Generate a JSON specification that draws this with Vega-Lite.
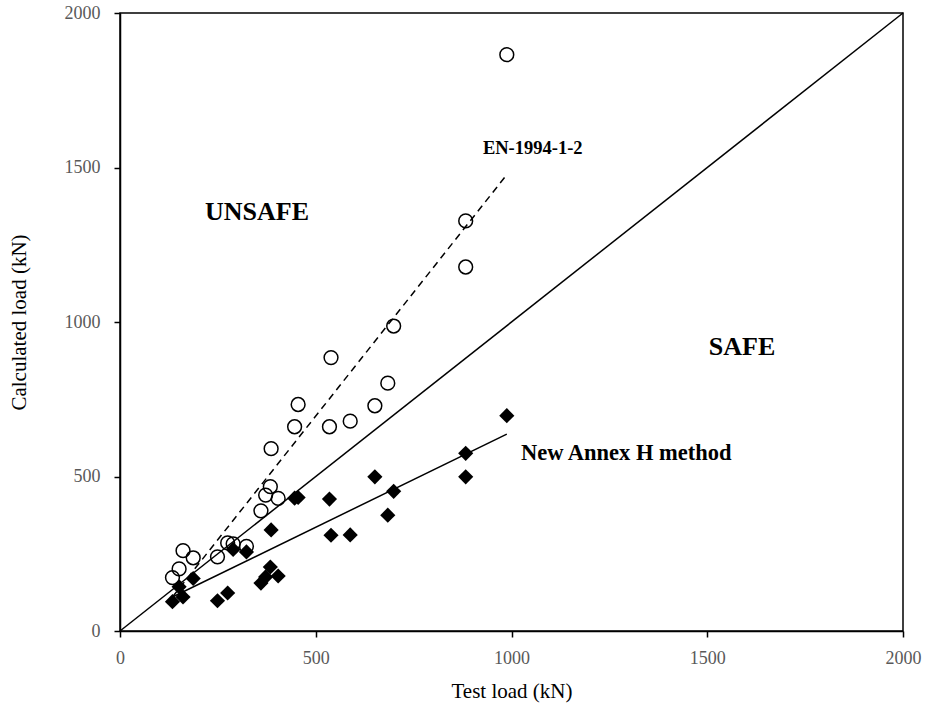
{
  "$schema": "https://vega.github.io/schema/vega-lite/v6.json",
  "width": 783,
  "height": 618,
  "autosize": {"type": "none"},
  "padding": {"left": 120, "top": 13, "right": 24, "bottom": 83},
  "background": "white",
  "config": {
    "view": {"stroke": "black", "strokeWidth": 1.5},
    "font": "Liberation Serif",
    "axis": {
      "domainColor": "black",
      "domainWidth": 1.5,
      "tickColor": "black",
      "tickWidth": 1.5,
      "tickSize": 6,
      "grid": false,
      "labelFont": "Liberation Serif",
      "labelFontSize": 18,
      "labelColor": "#595959",
      "labelFlush": false,
      "format": "d",
      "titleFont": "Liberation Serif",
      "titleFontSize": 21,
      "titleFontWeight": "normal",
      "titleColor": "black"
    }
  },
  "datasets": {
    "tests": [
      {"test": 134, "en": 173, "annex": 95},
      {"test": 151, "en": 201, "annex": 143},
      {"test": 161, "en": 260, "annex": 110},
      {"test": 187, "en": 237, "annex": 170},
      {"test": 249, "en": 240, "annex": 98},
      {"test": 275, "en": 285, "annex": 123},
      {"test": 289, "en": 282, "annex": 264},
      {"test": 323, "en": 274, "annex": 256},
      {"test": 360, "en": 389, "annex": 155},
      {"test": 372, "en": 440, "annex": 175},
      {"test": 384, "en": 467, "annex": 207},
      {"test": 386, "en": 590, "annex": 327},
      {"test": 404, "en": 429, "annex": 178},
      {"test": 446, "en": 661, "annex": 430},
      {"test": 455, "en": 733, "annex": 432},
      {"test": 535, "en": 661, "annex": 427},
      {"test": 539, "en": 885, "annex": 310},
      {"test": 588, "en": 679, "annex": 311},
      {"test": 651, "en": 729, "annex": 499},
      {"test": 684, "en": 802, "annex": 375},
      {"test": 699, "en": 987, "annex": 452},
      {"test": 883, "en": 1327, "annex": 575},
      {"test": 883, "en": 1178, "annex": 499},
      {"test": 988, "en": 1865, "annex": 697}
    ],
    "lines": [
      {"line": "equal", "x": 0, "y": 0},
      {"line": "equal", "x": 2000, "y": 2000},
      {"line": "annex", "x": 134, "y": 110},
      {"line": "annex", "x": 988, "y": 637},
      {"line": "en", "x": 134, "y": 110},
      {"line": "en", "x": 990, "y": 1480}
    ],
    "notes": [
      {"label": "UNSAFE"},
      {"label": "SAFE"},
      {"label": "EN-1994-1-2"},
      {"label": "New Annex H method"}
    ]
  },
  "layer": [
    {
      "data": {"name": "lines"},
      "transform": [{"filter": "datum.line !== 'en'"}],
      "mark": {"type": "line", "color": "black", "strokeWidth": 1.5},
      "encoding": {
        "x": {"field": "x", "type": "quantitative"},
        "y": {"field": "y", "type": "quantitative"},
        "detail": {"field": "line"}
      }
    },
    {
      "data": {"name": "lines"},
      "transform": [{"filter": "datum.line === 'en'"}],
      "mark": {"type": "line", "color": "black", "strokeWidth": 1.5, "strokeDash": [7, 5]},
      "encoding": {
        "x": {"field": "x", "type": "quantitative"},
        "y": {"field": "y", "type": "quantitative"}
      }
    },
    {
      "data": {"name": "tests"},
      "mark": {"type": "point", "shape": "circle", "filled": false, "stroke": "black", "strokeWidth": 1.5, "size": 190, "opacity": 1},
      "encoding": {
        "x": {
          "field": "test", "type": "quantitative",
          "scale": {"domain": [0, 2000], "nice": false},
          "axis": {"values": [0, 500, 1000, 1500, 2000], "title": "Test load (kN)", "labelPadding": 12, "titlePadding": 13}
        },
        "y": {
          "field": "en", "type": "quantitative",
          "scale": {"domain": [0, 2000], "nice": false},
          "axis": {"values": [0, 500, 1000, 1500, 2000], "title": "Calculated load (kN)", "labelPadding": 14, "titlePadding": 35}
        }
      }
    },
    {
      "data": {"name": "tests"},
      "mark": {"type": "point", "shape": "diamond", "filled": true, "color": "black", "size": 230, "opacity": 1},
      "encoding": {
        "x": {"field": "test", "type": "quantitative"},
        "y": {"field": "annex", "type": "quantitative"}
      }
    },
    {
      "data": {"name": "notes"},
      "transform": [{"filter": "datum.label === 'UNSAFE'"}],
      "mark": {"type": "text", "fontWeight": "bold", "fontSize": 26, "font": "Liberation Serif", "align": "center", "baseline": "middle", "color": "black"},
      "encoding": {"text": {"field": "label"}, "x": {"datum": 350}, "y": {"datum": 1356}}
    },
    {
      "data": {"name": "notes"},
      "transform": [{"filter": "datum.label === 'SAFE'"}],
      "mark": {"type": "text", "fontWeight": "bold", "fontSize": 26, "font": "Liberation Serif", "align": "center", "baseline": "middle", "color": "black"},
      "encoding": {"text": {"field": "label"}, "x": {"datum": 1589}, "y": {"datum": 919}}
    },
    {
      "data": {"name": "notes"},
      "transform": [{"filter": "datum.label === 'EN-1994-1-2'"}],
      "mark": {"type": "text", "fontWeight": "bold", "fontSize": 18.5, "font": "Liberation Serif", "align": "left", "baseline": "middle", "color": "black"},
      "encoding": {"text": {"field": "label"}, "x": {"datum": 927}, "y": {"datum": 1563}}
    },
    {
      "data": {"name": "notes"},
      "transform": [{"filter": "datum.label === 'New Annex H method'"}],
      "mark": {"type": "text", "fontWeight": "bold", "fontSize": 22.5, "font": "Liberation Serif", "align": "left", "baseline": "middle", "color": "black"},
      "encoding": {"text": {"field": "label"}, "x": {"datum": 1024}, "y": {"datum": 576}}
    }
  ]
}
